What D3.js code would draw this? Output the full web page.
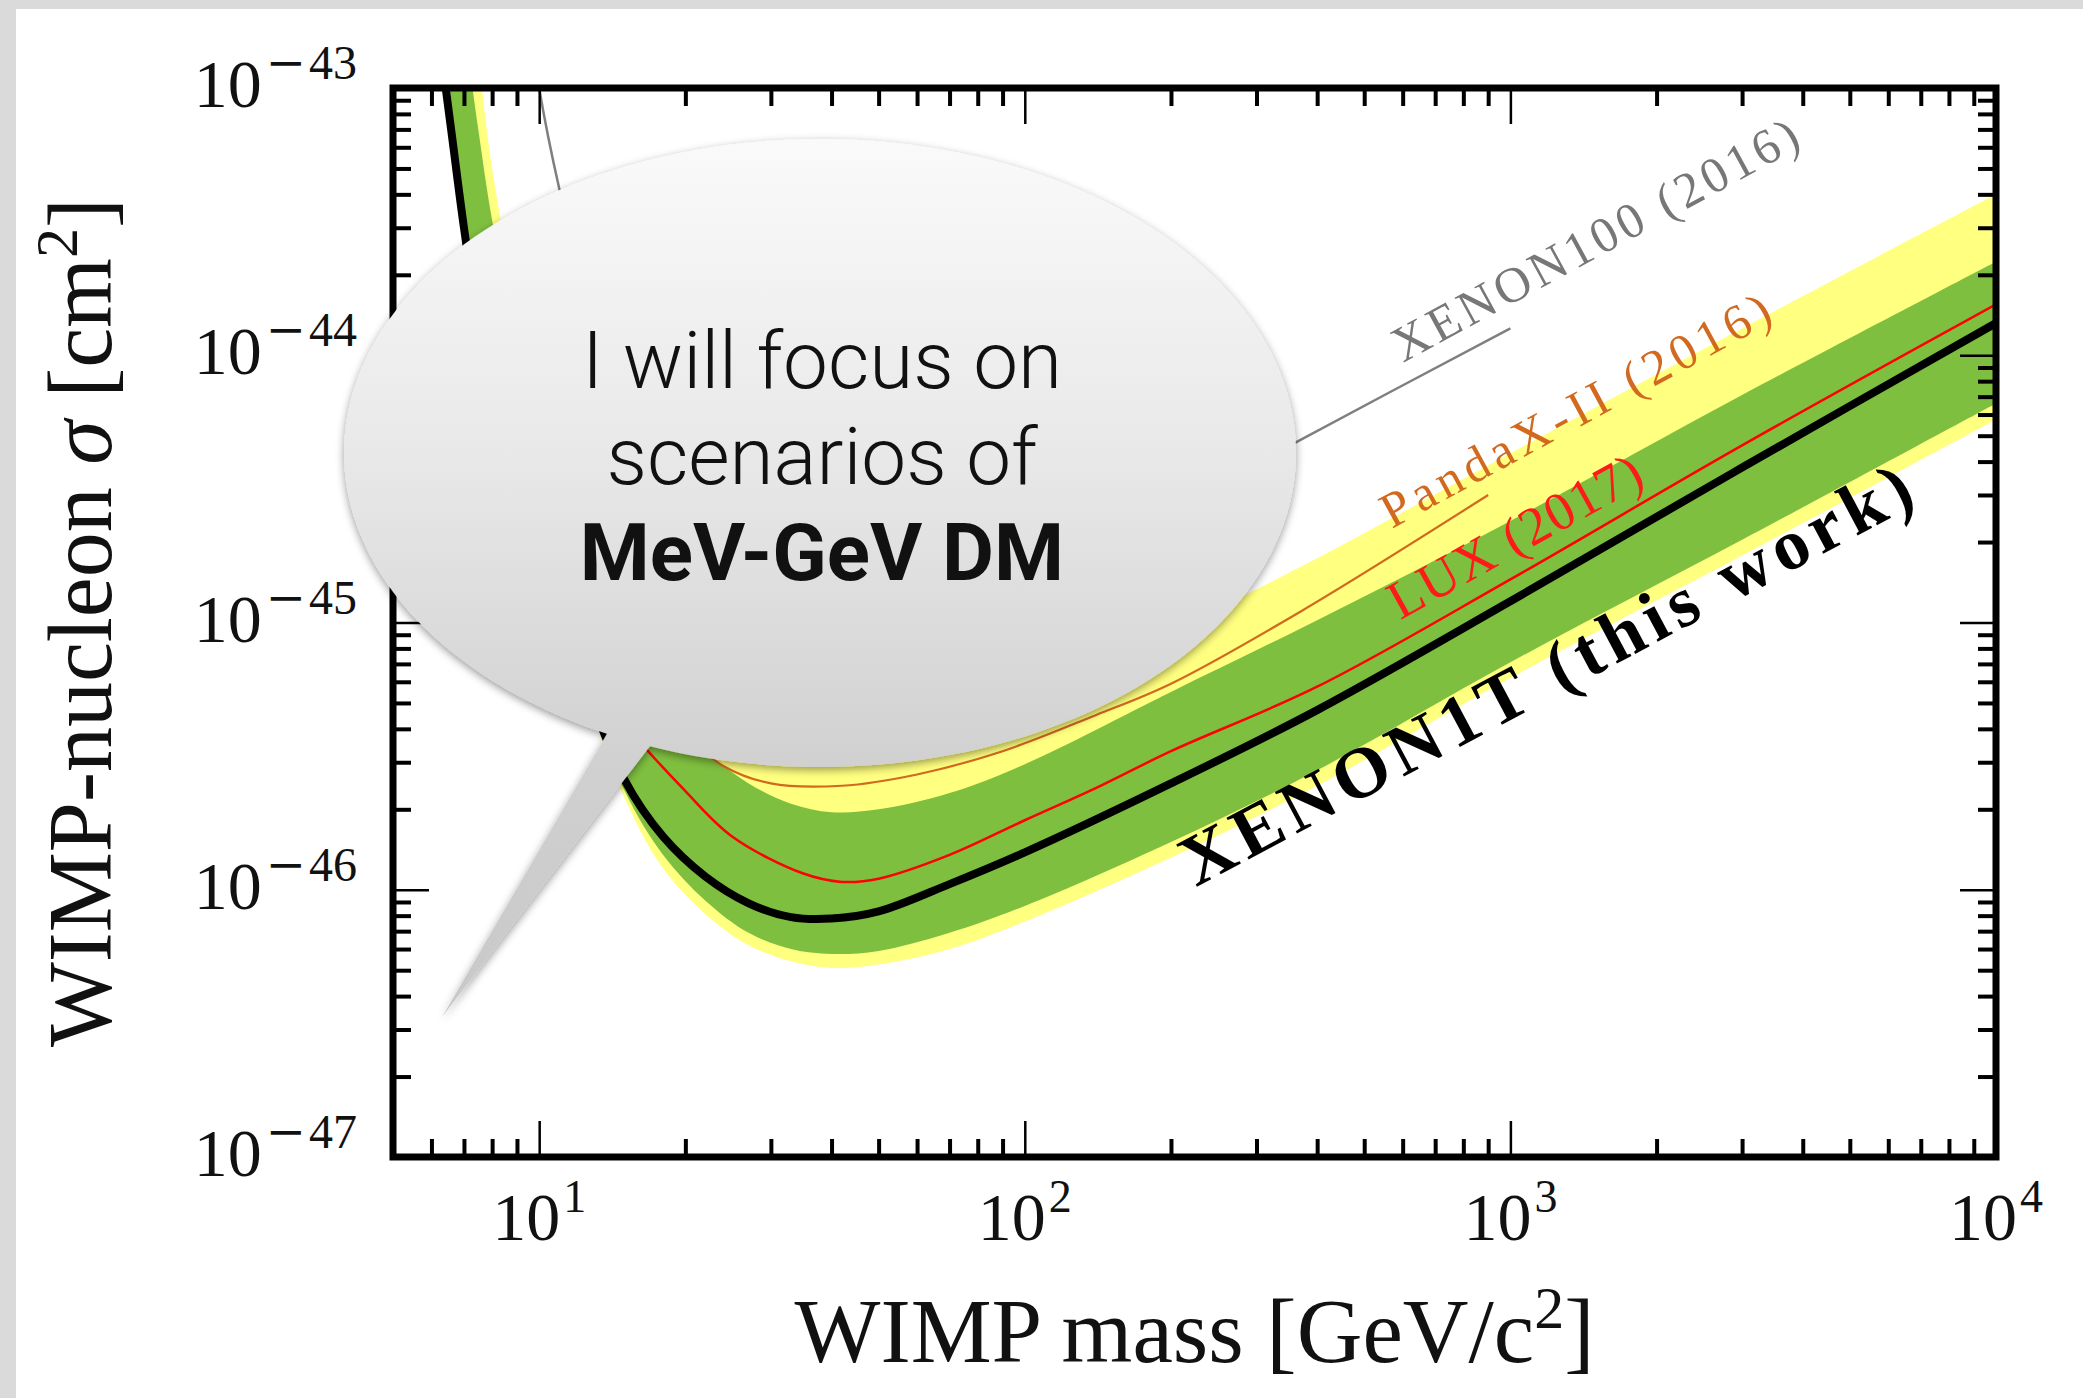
<!DOCTYPE html>
<html>
<head>
<meta charset="utf-8">
<script src="https://cdn.jsdelivr.net/npm/d3@7"></script>
<style>
  html, body { margin: 0; padding: 0; background: #dadada; }
  svg { display: block; }
</style>
</head>
<body>
<div id="chart"></div>
<script>
// ---- data (mass in GeV/c^2, cross-section in cm^2) ----
const massGrid      = [6, 6.3, 6.6, 7, 7.5, 8, 9, 10, 12, 15, 18, 22, 27, 33, 40, 50, 70, 100, 200, 400, 1000, 3000, 10000];
const xenon1tLimit  = [2.4e-43, 1.29e-43, 6.8e-44, 3.0e-44, 1.32e-44, 7.4e-45, 3.3e-45, 1.78e-45, 7.1e-46, 2.57e-46, 1.58e-46, 1.12e-46, 8.9e-47, 7.9e-47, 7.8e-47, 8.3e-47, 1.05e-46, 1.38e-46, 2.5e-46, 4.7e-46, 1.2e-45, 3.8e-45, 1.32e-44];
const band1High     = [1.6e-42, 7.9e-43, 3.5e-43, 1.7e-43, 6.9e-44, 3.2e-44, 1.12e-44, 5.0e-45, 1.78e-45, 7.1e-46, 4.7e-46, 3.3e-46, 2.5e-46, 2.1e-46, 1.95e-46, 2.0e-46, 2.3e-46, 2.95e-46, 5.5e-46, 1.02e-45, 2.4e-45, 7.1e-45, 2.24e-44];
const band1Low      = [2.3e-43, 1.23e-43, 6.5e-44, 2.9e-44, 1.26e-44, 7.1e-45, 3.2e-45, 1.7e-45, 6.8e-46, 2.34e-46, 1.35e-46, 9.1e-47, 6.9e-47, 6.0e-47, 5.75e-47, 5.9e-47, 6.9e-47, 8.7e-47, 1.51e-46, 2.8e-46, 7.1e-46, 2.04e-45, 6.6e-45];
const band2High     = [3.2e-42, 1.6e-42, 7.1e-43, 3.2e-43, 1.26e-43, 5.0e-44, 1.58e-44, 7.6e-45, 3.0e-45, 1.32e-45, 8.5e-46, 6.0e-46, 4.7e-46, 4.0e-46, 3.8e-46, 3.8e-46, 4.3e-46, 5.25e-46, 9.3e-46, 1.74e-45, 4.3e-45, 1.26e-44, 4.0e-44];
const band2Low      = [2.25e-43, 1.2e-43, 6.3e-44, 2.8e-44, 1.23e-44, 6.9e-45, 3.1e-45, 1.66e-45, 6.6e-46, 2.2e-46, 1.2e-46, 8.1e-47, 6.2e-47, 5.4e-47, 5.1e-47, 5.25e-47, 6.0e-47, 7.6e-47, 1.32e-46, 2.45e-46, 6.2e-46, 1.78e-45, 5.75e-45];

const luxMass       = [6, 6.3, 6.6, 7, 7.5, 8, 9, 10, 12, 15, 20, 25, 35, 42, 50, 70, 100, 140, 200, 400, 1000, 3000, 10000];
const luxLimit      = [2.2e-43, 1.2e-43, 6.2e-44, 2.7e-44, 1.2e-44, 6.6e-45, 3.1e-45, 1.7e-45, 7.9e-46, 4.2e-46, 2.34e-46, 1.58e-46, 1.15e-46, 1.07e-46, 1.1e-46, 1.35e-46, 1.82e-46, 2.4e-46, 3.3e-46, 5.75e-46, 1.45e-45, 4.6e-45, 1.55e-44];

const pandaxMass    = [9, 12, 15, 20, 24, 30, 42, 60, 90, 140, 200, 370, 900];
const pandaxLimit   = [1.0e-44, 1.78e-45, 7.1e-46, 3.8e-46, 2.9e-46, 2.5e-46, 2.45e-46, 2.7e-46, 3.3e-46, 4.5e-46, 5.9e-46, 1.1e-45, 3.0e-45];

const xenon100Mass  = [9.5, 10, 11, 13, 16, 25, 50, 100, 200, 360, 1000];
const xenon100Limit = [2.0e-43, 1.0e-43, 4.2e-44, 1.26e-44, 5.0e-45, 2.0e-45, 1.41e-45, 1.58e-45, 2.6e-45, 4.7e-45, 1.26e-44];

const massTicks      = [10, 100, 1000, 10000];
const massTickExp    = ["1", "2", "3", "4"];
const sigmaTicks     = [1e-43, 1e-44, 1e-45, 1e-46, 1e-47];
const sigmaTickExp   = ["43", "44", "45", "46", "47"];

const bubbleLines = ["I will focus on", "scenarios of", "MeV-GeV DM"];

// ---- layout ----
const width = 2083, height = 1398;
const plot = { left: 393, right: 1996, top: 88, bottom: 1157 };
const serif = "'Liberation Serif', 'DejaVu Serif', serif";

const svg = d3.select("#chart").append("svg")
  .attr("width", width)
  .attr("height", height);

const defs = svg.append("defs");
defs.append("clipPath").attr("id", "plotClip")
  .append("rect")
  .attr("x", plot.left).attr("y", plot.top)
  .attr("width", plot.right - plot.left).attr("height", plot.bottom - plot.top);

// slide background
svg.append("rect").attr("width", width).attr("height", height).attr("fill", "#dadada");
svg.append("rect").attr("x", 16).attr("y", 9).attr("width", width - 16).attr("height", height - 9).attr("fill", "#fff");

const x = d3.scaleLog().domain([5, 1e4]).range([plot.left, plot.right]);
const y = d3.scaleLog().domain([1e-47, 1e-43]).range([plot.bottom, plot.top]);

const bandData = massGrid.map((m, i) => ({
  m, lo1: band1Low[i], hi1: band1High[i], lo2: band2Low[i], hi2: band2High[i]
}));

const curve = d3.curveCatmullRom.alpha(0.5);
const line = d3.line().x(d => x(d[0])).y(d => y(d[1])).curve(curve);
const zip = (a, b) => a.map((v, i) => [v, b[i]]);

const g = svg.append("g").attr("clip-path", "url(#plotClip)");

g.append("path")
  .datum(bandData)
  .attr("fill", "#ffff80")
  .attr("d", d3.area().x(d => x(d.m)).y0(d => y(d.lo2)).y1(d => y(d.hi2)).curve(curve));

g.append("path")
  .datum(bandData)
  .attr("fill", "#7fbf3f")
  .attr("d", d3.area().x(d => x(d.m)).y0(d => y(d.lo1)).y1(d => y(d.hi1)).curve(curve));

g.append("path")
  .datum(zip(xenon100Mass, xenon100Limit))
  .attr("fill", "none").attr("stroke", "#7f7f7f").attr("stroke-width", 2.5)
  .attr("d", line);

g.append("path")
  .datum(zip(pandaxMass, pandaxLimit))
  .attr("fill", "none").attr("stroke", "#d2691e").attr("stroke-width", 2.2)
  .attr("d", line);

g.append("path")
  .datum(zip(luxMass, luxLimit))
  .attr("fill", "none").attr("stroke", "#ff0000").attr("stroke-width", 2.5)
  .attr("d", line);

g.append("path")
  .datum(zip(massGrid, xenon1tLimit))
  .attr("fill", "none").attr("stroke", "#000").attr("stroke-width", 8)
  .attr("d", line);

// curve labels, anchored at (mass, sigma) of their first letter
const curveLabels = [
  { text: "XENON100 (2016)", m: 601, s: 9.35e-45, angle: -28.5, len: 455, size: 50, color: "#777", weight: "normal" },
  { text: "PandaX-II (2016)", m: 570, s: 2.24e-45, angle: -28.5, len: 436, size: 50, color: "#d2691e", weight: "normal" },
  { text: "LUX (2017)", m: 593, s: 1.02e-45, angle: -29, len: 282, size: 54, color: "#ff1a1a", weight: "normal" },
  { text: "XENON1T (this work)", m: 225, s: 1.02e-46, angle: -28, len: 818, size: 72, color: "#000", weight: "bold" }
];

svg.selectAll(".curve-label")
  .data(curveLabels)
  .enter().append("text")
  .attr("class", "curve-label")
  .attr("transform", d => `translate(${x(d.m)},${y(d.s)}) rotate(${d.angle})`)
  .attr("font-family", serif)
  .attr("font-size", d => d.size)
  .attr("font-weight", d => d.weight)
  .attr("fill", d => d.color)
  .attr("textLength", d => d.len)
  .attr("lengthAdjust", "spacing")
  .text(d => d.text);

// ---- frame and ticks ----
const minorMass = [6, 7, 8, 9].concat([1, 2, 3].flatMap(e => d3.range(2, 10).map(k => k * Math.pow(10, e))));
const minorSigma = [-47, -46, -45, -44].flatMap(e => d3.range(2, 10).map(k => k * Math.pow(10, e)));

function ticks(axisFn, scale, values, size, strokeWidth, transform) {
  const a = svg.append("g")
    .attr("transform", transform)
    .call(axisFn(scale).tickValues(values).tickSize(-size).tickFormat(""));
  a.select(".domain").remove();
  a.selectAll(".tick line").attr("stroke", "#000").attr("stroke-width", strokeWidth);
}

[[d3.axisBottom, `translate(0,${plot.bottom})`], [d3.axisTop, `translate(0,${plot.top})`]].forEach(([fn, t]) => {
  ticks(fn, x, minorMass, 18, 4, t);
  ticks(fn, x, massTicks, 36, 2.5, t);
});
[[d3.axisLeft, `translate(${plot.left},0)`], [d3.axisRight, `translate(${plot.right},0)`]].forEach(([fn, t]) => {
  ticks(fn, y, minorSigma, 18, 4, t);
  ticks(fn, y, sigmaTicks, 36, 2.5, t);
});

svg.append("rect")
  .attr("x", plot.left).attr("y", plot.top)
  .attr("width", plot.right - plot.left).attr("height", plot.bottom - plot.top)
  .attr("fill", "none").attr("stroke", "#000").attr("stroke-width", 7);

// tick labels
massTicks.forEach((v, i) => {
  const t = svg.append("text")
    .attr("x", x(v)).attr("y", 1240)
    .attr("text-anchor", "middle")
    .attr("font-family", serif).attr("font-size", 68).attr("fill", "#111");
  t.append("tspan").text("10");
  t.append("tspan").attr("dy", -28).attr("dx", 3).attr("font-size", 46).text(massTickExp[i]);
});

sigmaTicks.forEach((v, i) => {
  const t = svg.append("text")
    .attr("x", 357).attr("y", y(v) + 19)
    .attr("text-anchor", "end")
    .attr("font-family", serif).attr("font-size", 68).attr("fill", "#111");
  t.append("tspan").text("10");
  t.append("tspan").attr("dy", -28).attr("dx", 4)
    .attr("font-family", "'DejaVu Serif', serif").attr("font-size", 48).attr("letter-spacing", 3)
    .text("\u2212");
  t.append("tspan").attr("font-size", 48).text(sigmaTickExp[i]);
});

// axis titles
const xt = svg.append("text")
  .attr("x", (plot.left + plot.right) / 2).attr("y", 1362)
  .attr("text-anchor", "middle")
  .attr("font-family", serif).attr("font-size", 91).attr("fill", "#111");
xt.append("tspan").text("WIMP mass [GeV/c");
xt.append("tspan").attr("dy", -34).attr("font-size", 60).text("2");
xt.append("tspan").attr("dy", 34).text("]");

const yt = svg.append("text")
  .attr("transform", `translate(111,${(plot.top + plot.bottom) / 2}) rotate(-90)`)
  .attr("text-anchor", "middle")
  .attr("font-family", serif).attr("font-size", 90).attr("fill", "#111");
yt.append("tspan").text("WIMP-nucleon ");
yt.append("tspan").attr("font-style", "italic").text("\u03c3");
yt.append("tspan").text(" [cm");
yt.append("tspan").attr("dy", -34).attr("font-size", 60).text("2");
yt.append("tspan").attr("dy", 34).text("]");

// ---- speech bubble ----
const bubble = { cx: 820, cy: 453, rx: 476, ry: 314, baseLx: 607, baseRx: 650, tip: [442, 1017] };
const onEllipseBottom = xx => bubble.cy + bubble.ry * Math.sqrt(1 - Math.pow((xx - bubble.cx) / bubble.rx, 2));
const baseL = [bubble.baseLx, onEllipseBottom(bubble.baseLx)];
const baseR = [bubble.baseRx, onEllipseBottom(bubble.baseRx)];

const grad = defs.append("linearGradient")
  .attr("id", "bubbleFill")
  .attr("gradientUnits", "userSpaceOnUse")
  .attr("x1", 0).attr("y1", bubble.cy - bubble.ry)
  .attr("x2", 0).attr("y2", bubble.tip[1]);
[[0, "#fafafa"], [0.35, "#e9e9e9"], [0.72, "#d0d0d0"], [1, "#c8c8c8"]].forEach(([o, c]) => {
  grad.append("stop").attr("offset", o).attr("stop-color", c);
});

defs.append("filter").attr("id", "bubbleShadow")
  .attr("x", "-10%").attr("y", "-10%").attr("width", "120%").attr("height", "130%")
  .append("feDropShadow")
  .attr("dx", 0).attr("dy", 3).attr("stdDeviation", 4)
  .attr("flood-color", "#000").attr("flood-opacity", 0.4);

svg.append("path")
  .attr("d", `M${baseR[0]},${baseR[1]} A${bubble.rx},${bubble.ry} 0 1 0 ${baseL[0]},${baseL[1]} L${bubble.tip[0]},${bubble.tip[1]} Z`)
  .attr("fill", "url(#bubbleFill)")
  .attr("filter", "url(#bubbleShadow)");

const bubbleText = svg.append("g")
  .attr("font-family", "Roboto, 'Open Sans', sans-serif")
  .attr("text-anchor", "middle")
  .attr("fill", "#111");

bubbleText.selectAll("text")
  .data(bubbleLines)
  .enter().append("text")
  .attr("x", 822)
  .attr("y", (d, i) => 388 + i * 96)
  .attr("font-size", 80)
  .attr("font-weight", (d, i) => i === 2 ? 700 : 300)
  .text(d => d);
</script>
</body>
</html>
